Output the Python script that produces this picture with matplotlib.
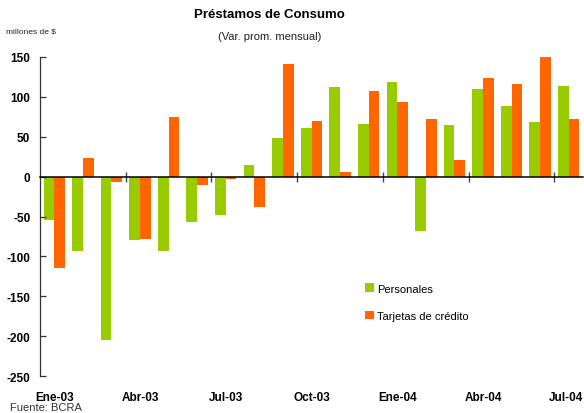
import numpy as np
import matplotlib.pyplot as plt
from matplotlib.transforms import ScaledTranslation

plt.rcParams['font.family'] = ['Liberation Sans', 'DejaVu Sans']

# --- Data (millones de $, var. prom. mensual) ---
months = ['Ene-03', 'Feb-03', 'Mar-03', 'Abr-03', 'May-03', 'Jun-03', 'Jul-03',
          'Ago-03', 'Sep-03', 'Oct-03', 'Nov-03', 'Dic-03', 'Ene-04', 'Feb-04',
          'Mar-04', 'Abr-04', 'May-04', 'Jun-04', 'Jul-04']
personales = [-55, -93, -205, -80, -93, -57, -48, 14, 49, 61, 113, 66, 119,
              -68, 65, 110, 89, 69, 114]
tarjetas = [-115, 23, -7, -78, 75, -10, -3, -38, 141, 70, 6, 107, 94,
            72, 21, 124, 116, 151, 72]
tick_months = ['Ene-03', 'Abr-03', 'Jul-03', 'Oct-03', 'Ene-04', 'Abr-04', 'Jul-04']
yticks = [150, 100, 50, 0, -50, -100, -150, -200, -250]

green = '#99CC00'
orange = '#FF6600'

x = np.arange(len(months))
w = 0.375

fig = plt.figure(figsize=(5.84, 4.14), dpi=100)
ax = fig.add_axes([40 / 584, 1 - 377 / 414, 543 / 584, 319 / 414])

ax.bar(x - w / 2, personales, w, color=green, label='Personales')
ax.bar(x + w / 2, tarjetas, w, color=orange, label='Tarjetas de crédito')

ax.set_xlim(-0.5, len(months) - 0.5)
ax.set_ylim(-250, 150)

# spines
for s in ['top', 'right']:
    ax.spines[s].set_visible(False)
ax.spines['left'].set_color('#333333')
ax.spines['left'].set_linewidth(0.9)
ax.spines['bottom'].set_position(('data', 0))
ax.spines['bottom'].set_color('black')
ax.spines['bottom'].set_linewidth(1.1)

# y ticks
ax.set_yticks(yticks)
ax.set_yticklabels([str(v) for v in yticks], fontweight='bold', fontsize=8.5)
ax.tick_params(axis='y', direction='in', length=4, width=0.9, color='#333333',
               pad=7)

# x tick marks at quarter boundaries, no labels
ax.set_xticks(np.arange(2.5, len(months), 3))
ax.tick_params(axis='x', direction='inout', length=7, width=1.0,
               color='#444444', labelbottom=False)

# month labels at bottom
sec = ax.secondary_xaxis('bottom')
sec.set_xticks([months.index(m) for m in tick_months])
sec.set_xticklabels(tick_months, fontweight='bold', fontsize=8.5)
sec.tick_params(length=0, pad=11)
sec.spines['bottom'].set_visible(False)
# last label sits against the right edge
last = sec.get_xticklabels()[-1]
last.set_transform(last.get_transform()
                   + ScaledTranslation(-3 / 100, 0, fig.dpi_scale_trans))

# titles and notes
fig.text(0.462, 1 - 15 / 414, 'Préstamos de Consumo', ha='center', va='center',
         fontsize=9.5, fontweight='bold')
fig.text(0.462, 1 - 37 / 414, '(Var. prom. mensual)', ha='center', va='center',
         fontsize=8, color='#222222')
fig.text(6 / 584, 1 - 32 / 414, 'millones de $', ha='left', va='center',
         fontsize=6, color='#222222')
fig.text(10 / 584, 1 - 408 / 414, 'Fuente: BCRA', ha='left', va='center',
         fontsize=8, color='#333333')

ax.legend(loc='upper left', bbox_to_anchor=(0.599, 0.29), frameon=False,
          fontsize=8, handlelength=0.8, handleheight=0.8, handletextpad=0.3,
          labelspacing=1.55, borderaxespad=0, borderpad=0)

fig.savefig('out.png', dpi=100)
